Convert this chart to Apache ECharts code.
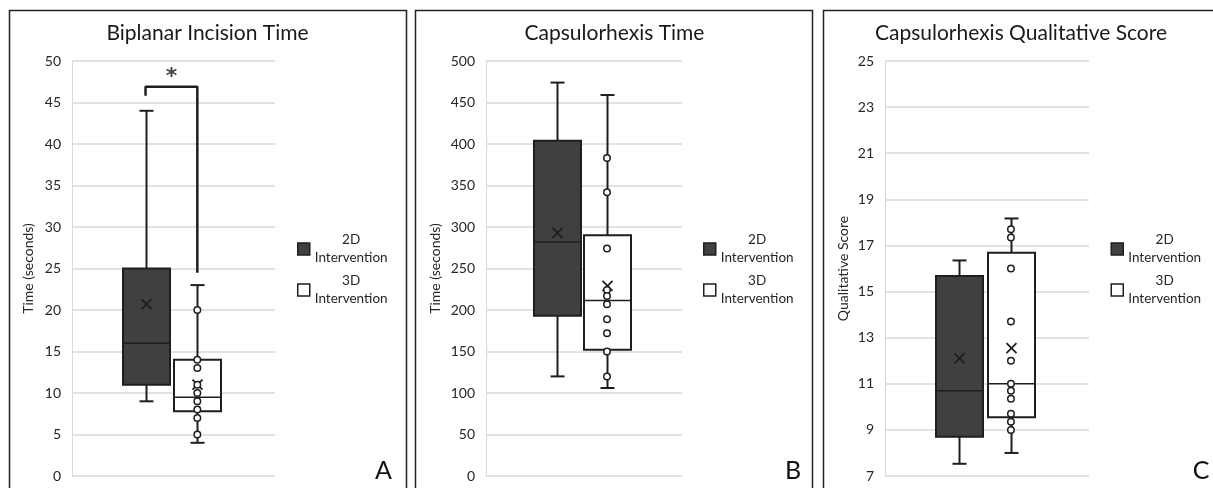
<!DOCTYPE html>
<html>
<head>
<meta charset="utf-8">
<script src="https://cdn.jsdelivr.net/npm/echarts@6/dist/echarts.min.js"></script>
<style>
  html, body { margin: 0; padding: 0; background: #fff; }
  #chart { width: 1213px; height: 488px; }
</style>
</head>
<body>
<div id="chart"></div>
<script>
// groups shown in every panel
const groups = ['2D Intervention', '3D Intervention'];

// panel texts
const titles = ['Biplanar Incision Time', 'Capsulorhexis Time', 'Capsulorhexis Qualitative Score'];
const yNames = ['Time (seconds)', 'Time (seconds)', 'Qualitative Score'];
const panelLetters = ['A', 'B', 'C'];

// y axis ticks
const yMin = [0, 0, 7];
const yMax = [50, 500, 25];
const yStep = [5, 50, 2];

// box stats: [min, q1, median, q3, max, mean]
const incision2D = [9, 11, 16, 25, 44, 20.7];
const incision3D = [4, 7.8, 9.5, 14, 23, 11];
const incision3DPoints = [20, 14, 13, 11, 10, 9, 8, 7, 5];

const rhexisTime2D = [120, 193, 282, 404, 474, 293];
const rhexisTime3D = [106, 152, 211.5, 290, 459, 229];
const rhexisTime3DPoints = [383, 342, 274, 224, 217, 207, 189, 172, 150, 120];

const rhexisScore2D = [7.53, 8.7, 10.7, 15.67, 16.35, 12.1];
const rhexisScore3D = [8.0, 9.55, 11.0, 16.68, 18.17, 12.55];
const rhexisScore3DPoints = [17.7, 17.35, 16, 13.7, 12, 11, 10.7, 10.35, 9.7, 9.35, 9];

// significance bracket in panel A: [left leg end, top, right leg end], star height
const sigBracket = [45.8, 46.9, 24.5];
const sigStar = 48.6;

const stats2D = [incision2D, rhexisTime2D, rhexisScore2D];
const stats3D = [incision3D, rhexisTime3D, rhexisScore3D];
const points3D = [incision3DPoints, rhexisTime3DPoints, rhexisScore3DPoints];

const FONT = 'Lato';
const INK = '#1e1e1e';
const GRIDC = '#d9d9d9';

const gridLeft = [72, 486, 885];
const gridWidth = [203, 196, 204];
const nameGap = [37, 44, 35];
const legendLeft = [297, 703, 1110.5];
const titleX = [207.5, 614.5, 1021];
const letterX = [383.5, 793, 1201];
const frameX = [9.5, 415.5, 823.5];

const chart = echarts.init(document.getElementById('chart'));

function renderBox(params, api) {
  const x = api.value(0);
  const lo = api.coord([x, api.value(1)]);
  const q1 = api.coord([x, api.value(2)]);
  const md = api.coord([x, api.value(3)]);
  const q3 = api.coord([x, api.value(4)]);
  const hi = api.coord([x, api.value(5)]);
  const mn = api.coord([x, api.value(6)]);
  const cx = Math.round(lo[0]) + 0.5;
  const hw = 23.5, cap = 7, xs = 5;
  const line = { stroke: INK, lineWidth: 2, fill: null };
  const thin = { stroke: INK, lineWidth: 1.5, fill: null };
  const cross = { stroke: INK, lineWidth: 1.8, fill: null };
  return {
    type: 'group',
    children: [
      { type: 'line', shape: { x1: cx, y1: hi[1], x2: cx, y2: q3[1] }, style: line },
      { type: 'line', shape: { x1: cx, y1: q1[1], x2: cx, y2: lo[1] }, style: line },
      { type: 'line', shape: { x1: cx - cap, y1: hi[1], x2: cx + cap, y2: hi[1] }, style: line },
      { type: 'line', shape: { x1: cx - cap, y1: lo[1], x2: cx + cap, y2: lo[1] }, style: line },
      { type: 'rect', shape: { x: cx - hw, y: q3[1], width: hw * 2, height: q1[1] - q3[1] },
        style: { fill: api.visual('color'), stroke: INK, lineWidth: 2 } },
      { type: 'line', shape: { x1: cx - hw, y1: md[1], x2: cx + hw, y2: md[1] }, style: thin },
      { type: 'line', shape: { x1: cx - xs, y1: mn[1] - xs, x2: cx + xs, y2: mn[1] + xs }, style: cross, z2: 5 },
      { type: 'line', shape: { x1: cx + xs, y1: mn[1] - xs, x2: cx - xs, y2: mn[1] + xs }, style: cross, z2: 5 }
    ]
  };
}

const grid = [], xAxis = [], yAxis = [], series = [], legend = [], graphic = [];

for (let p = 0; p < 3; p++) {
  grid.push({ left: gridLeft[p], width: gridWidth[p], top: 61, height: 415 });
  xAxis.push({ gridIndex: p, type: 'value', min: -1.42, max: 2.5, show: false });
  yAxis.push({
    gridIndex: p, type: 'value', min: yMin[p], max: yMax[p], interval: yStep[p],
    name: yNames[p], nameLocation: 'middle', nameGap: nameGap[p],
    nameTextStyle: { fontFamily: FONT, fontSize: 14, color: '#262626' },
    axisLine: { show: true, onZero: false, lineStyle: { color: GRIDC, width: 1 } },
    axisTick: { show: false },
    axisLabel: { fontFamily: FONT, fontSize: 14, color: '#262626', margin: 11 },
    splitLine: { lineStyle: { color: GRIDC, width: 1.5 } }
  });

  series.push({
    name: groups[0], type: 'custom', xAxisIndex: p, yAxisIndex: p,
    renderItem: renderBox, itemStyle: { color: '#404040' },
    encode: { x: 0, y: [1, 2, 3, 4, 5, 6] },
    data: [[0].concat(stats2D[p])]
  });
  series.push({
    name: groups[1], type: 'custom', xAxisIndex: p, yAxisIndex: p,
    renderItem: renderBox, itemStyle: { color: '#ffffff' },
    encode: { x: 0, y: [1, 2, 3, 4, 5, 6] },
    data: [[1].concat(stats3D[p])]
  });
  series.push({
    name: groups[1], type: 'scatter', xAxisIndex: p, yAxisIndex: p, z: 3,
    symbol: 'circle', symbolSize: 6.5,
    itemStyle: { color: '#ffffff', borderColor: INK, borderWidth: 1.5, opacity: 1 },
    data: points3D[p].map(v => [1, v])
  });

  legend.push({
    orient: 'vertical', left: legendLeft[p], top: 233, padding: 0,
    itemWidth: 12, itemHeight: 12, itemGap: 9, selectedMode: false,
    data: [
      { name: groups[0], icon: 'rect', itemStyle: { color: '#404040', borderColor: INK, borderWidth: 1.5 } },
      { name: groups[1], icon: 'rect', itemStyle: { color: '#ffffff', borderColor: INK, borderWidth: 1.5 } }
    ],
    formatter: n => n.split(' ').map(w => '{c|' + w + '}').join('\n'),
    textStyle: { rich: { c: { align: 'center', fontFamily: FONT, fontSize: 13.5, lineHeight: 18, color: '#262626' } } }
  });

  graphic.push({
    type: 'rect', shape: { x: frameX[p], y: 10.5, width: 397, height: 500 },
    style: { fill: null, stroke: '#222', lineWidth: 1.5 }, silent: true
  });
  graphic.push({
    type: 'text', x: titleX[p], y: 33,
    style: { text: titles[p], fontFamily: FONT, fontSize: 21, fill: '#1a1a1a', align: 'center', verticalAlign: 'middle' }
  });
  graphic.push({
    type: 'text', x: letterX[p], y: 471,
    style: { text: panelLetters[p], fontFamily: FONT, fontSize: 25, fill: '#111', align: 'center', verticalAlign: 'middle' }
  });
}

// significance bracket and star (panel A)
series.push({
  type: 'line', xAxisIndex: 0, yAxisIndex: 0, symbol: 'none', silent: true,
  lineStyle: { color: INK, width: 2.5 },
  data: [[0, sigBracket[0]], [0, sigBracket[1]], [1, sigBracket[1]], [1, sigBracket[2]]]
});
series.push({
  type: 'scatter', xAxisIndex: 0, yAxisIndex: 0, symbolSize: 1, silent: true,
  itemStyle: { color: 'rgba(0,0,0,0)' },
  label: { show: true, position: 'inside', formatter: '*', fontFamily: 'DejaVu Sans', fontWeight: 'bold',
           fontSize: 22, color: '#111', offset: [0, 5] },
  data: [[0.5, sigStar]]
});

chart.setOption({
  animation: false,
  grid, xAxis, yAxis, series, legend, graphic
});
</script>
</body>
</html>
